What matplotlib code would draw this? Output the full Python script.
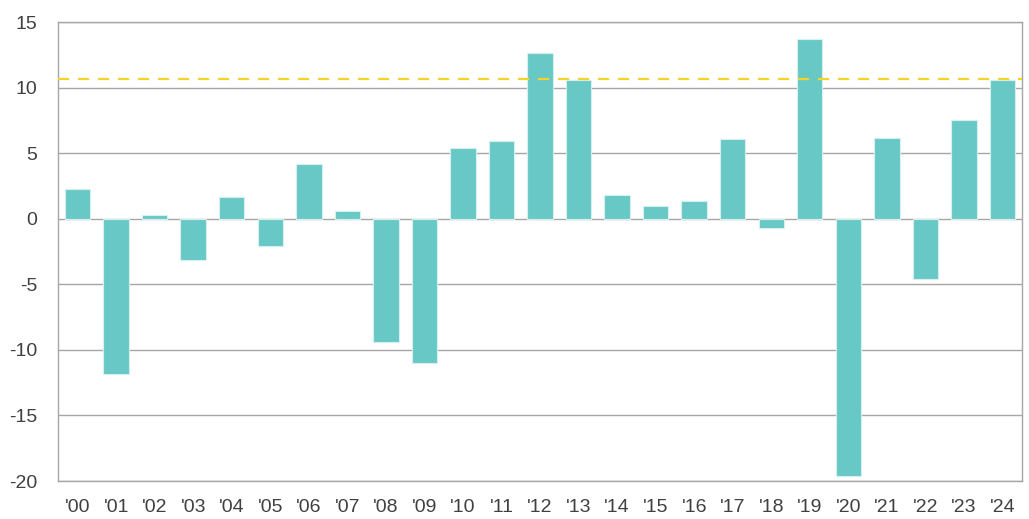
import matplotlib.pyplot as plt
from matplotlib import font_manager
import numpy as np

years = ["'00", "'01", "'02", "'03", "'04", "'05", "'06", "'07", "'08", "'09",
         "'10", "'11", "'12", "'13", "'14", "'15", "'16", "'17", "'18", "'19",
         "'20", "'21", "'22", "'23", "'24"]
values = [2.3, -11.8, 0.3, -3.15, 1.7, -2.1, 4.2, 0.63, -9.4, -11.0,
          5.4, 5.95, 12.65, 10.6, 1.8, 1.0, 1.35, 6.1, -0.72, 13.7,
          -19.6, 6.15, -4.55, 7.55, 10.6]
average = 10.7
yticks = [-20, -15, -10, -5, 0, 5, 10, 15]

names = {f.name for f in font_manager.fontManager.ttflist}
font = 'Liberation Sans Narrow' if 'Liberation Sans Narrow' in names else 'Liberation Sans'
plt.rcParams['font.family'] = [font, 'DejaVu Sans']
plt.rcParams['axes.unicode_minus'] = False

fig = plt.figure(figsize=(10.29, 5.19), dpi=100)
ax = fig.add_axes([0.0567, 0.0732, 0.9362, 0.8838])

x = np.arange(len(years))
ax.bar(x, values, width=0.66, color='#67c8c6', edgecolor='#d6f0ef', linewidth=0.8, zorder=3)
ax.axhline(average, color='#f5d327', linestyle=(0, (5, 4)), linewidth=1.6, zorder=4)

ax.set_xlim(-0.5, len(years) - 0.5)
ax.set_ylim(-20, 15)
ax.set_yticks(yticks)
ax.set_xticks(x)
ax.set_xticklabels(years)
ax.grid(axis='y', color='#a6a6a6', linewidth=1.0, zorder=0)
ax.tick_params(length=0, labelsize=14, colors='#404040')
ax.tick_params(axis='y', pad=15)
ax.tick_params(axis='x', pad=13)
for s in ax.spines.values():
    s.set_color('#a6a6a6')
    s.set_linewidth(1.0)

fig.savefig('out.png', dpi=100)
